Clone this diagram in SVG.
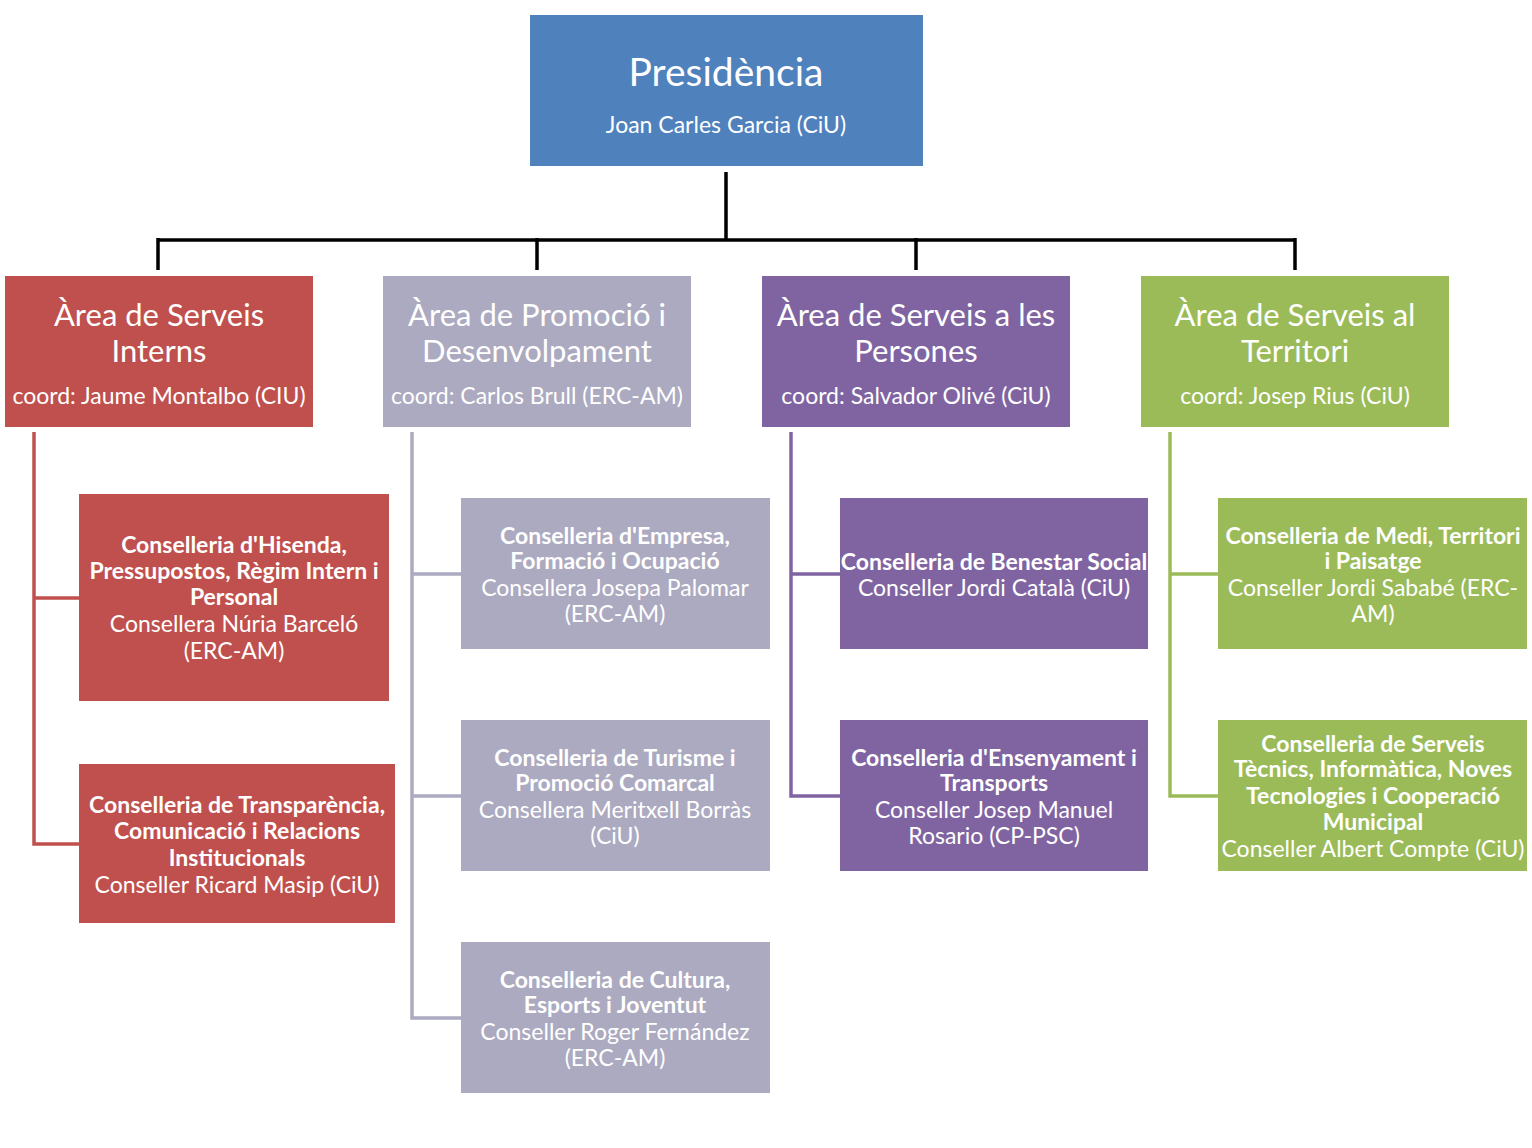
<svg xmlns="http://www.w3.org/2000/svg" width="1532" height="1148" viewBox="0 0 1532 1148">
<style>
text{font-family:Lato,"Open Sans","Liberation Sans",sans-serif;fill:#fff;text-anchor:middle}
.b{font-weight:bold;font-size:23px}
.n{font-size:23px}
.t{font-size:31px}
.c{font-size:23px}
.red{fill:#C0504D}.gray{fill:#ACAAC0}.pur{fill:#8064A2}.grn{fill:#9BBB59}
.lr{stroke:#C0504D}.lg{stroke:#ACAAC0}.lp{stroke:#8064A2}.lgr{stroke:#9BBB59}
.conn path{fill:none;stroke-width:3.5}
</style>
<rect width="1532" height="1148" fill="#fff"/>
<g id="connectors" class="conn">
<path d="M726 172V240M158 240H1295M158 238V270M537 238V270M916 238V270M1295 238V270" stroke="#000" stroke-width="4"/>
<path class="lr" d="M34 432V844H79M34 598H79"/>
<path class="lg" d="M412 432V1018H461M412 574H461M412 796H461"/>
<path class="lp" d="M791 432V796H840M791 574H840"/>
<path class="lgr" d="M1170 432V796H1218M1170 574H1218"/>
</g>
<g id="presidencia">
<rect x="530" y="15" width="393" height="151" fill="#4F81BD"/>
<text x="726" y="86" style="font-size:39px">Presidència</text>
<text x="726" y="133" class="c">Joan Carles Garcia (CiU)</text>
</g>
<g id="area-interns">
<rect x="5" y="276" width="308" height="151" class="red"/>
<text x="159" y="326" class="t">Àrea de Serveis</text>
<text x="159" y="362" class="t">Interns</text>
<text x="159" y="404" class="c">coord: Jaume Montalbo (CIU)</text>
</g>
<g id="area-promocio">
<rect x="383" y="276" width="308" height="151" class="gray"/>
<text x="537" y="326" class="t">Àrea de Promoció i</text>
<text x="537" y="362" class="t">Desenvolpament</text>
<text x="537" y="404" class="c">coord: Carlos Brull (ERC-AM)</text>
</g>
<g id="area-persones">
<rect x="762" y="276" width="308" height="151" class="pur"/>
<text x="916" y="326" class="t">Àrea de Serveis a les</text>
<text x="916" y="362" class="t">Persones</text>
<text x="916" y="404" class="c">coord: Salvador Olivé (CiU)</text>
</g>
<g id="area-territori">
<rect x="1141" y="276" width="308" height="151" class="grn"/>
<text x="1295" y="326" class="t">Àrea de Serveis al</text>
<text x="1295" y="362" class="t">Territori</text>
<text x="1295" y="404" class="c">coord: Josep Rius (CiU)</text>
</g>
<g id="hisenda">
<rect x="79" y="494" width="310" height="207" class="red"/>
<text x="234" y="553" class="b">Conselleria d'Hisenda,</text>
<text x="234" y="579" class="b">Pressupostos, Règim Intern i</text>
<text x="234" y="605" class="b">Personal</text>
<text x="234" y="632" class="n">Consellera Núria Barceló</text>
<text x="234" y="659" class="n">(ERC-AM)</text>
</g>
<g id="transparencia">
<rect x="79" y="764" width="316" height="159" class="red"/>
<text x="237" y="813" class="b">Conselleria de Transparència,</text>
<text x="237" y="839" class="b">Comunicació i Relacions</text>
<text x="237" y="866" class="b">Institucionals</text>
<text x="237" y="893" class="n">Conseller Ricard Masip (CiU)</text>
</g>
<g id="empresa">
<rect x="461" y="498" width="309" height="151" class="gray"/>
<text x="615" y="544" class="b">Conselleria d'Empresa,</text>
<text x="615" y="569" class="b">Formació i Ocupació</text>
<text x="615" y="596" class="n">Consellera Josepa Palomar</text>
<text x="615" y="622" class="n">(ERC-AM)</text>
</g>
<g id="turisme">
<rect x="461" y="720" width="309" height="151" class="gray"/>
<text x="615" y="766" class="b">Conselleria de Turisme i</text>
<text x="615" y="791" class="b">Promoció Comarcal</text>
<text x="615" y="818" class="n">Consellera Meritxell Borràs</text>
<text x="615" y="844" class="n">(CiU)</text>
</g>
<g id="cultura">
<rect x="461" y="942" width="309" height="151" class="gray"/>
<text x="615" y="988" class="b">Conselleria de Cultura,</text>
<text x="615" y="1013" class="b">Esports i Joventut</text>
<text x="615" y="1040" class="n">Conseller Roger Fernández</text>
<text x="615" y="1066" class="n">(ERC-AM)</text>
</g>
<g id="benestar">
<rect x="840" y="498" width="308" height="151" class="pur"/>
<text x="994" y="570" class="b">Conselleria de Benestar Social</text>
<text x="994" y="596" class="n">Conseller Jordi Català (CiU)</text>
</g>
<g id="ensenyament">
<rect x="840" y="720" width="308" height="151" class="pur"/>
<text x="994" y="766" class="b">Conselleria d'Ensenyament i</text>
<text x="994" y="791" class="b">Transports</text>
<text x="994" y="818" class="n">Conseller Josep Manuel</text>
<text x="994" y="844" class="n">Rosario (CP-PSC)</text>
</g>
<g id="medi">
<rect x="1218" y="498" width="309" height="151" class="grn"/>
<text x="1373" y="544" class="b">Conselleria de Medi, Territori</text>
<text x="1373" y="569" class="b">i Paisatge</text>
<text x="1373" y="596" class="n">Conseller Jordi Sababé (ERC-</text>
<text x="1373" y="622" class="n">AM)</text>
</g>
<g id="serveis-tecnics">
<rect x="1218" y="720" width="309" height="151" class="grn"/>
<text x="1373" y="752" class="b">Conselleria de Serveis</text>
<text x="1373" y="777" class="b">Tècnics, Informàtica, Noves</text>
<text x="1373" y="804" class="b">Tecnologies i Cooperació</text>
<text x="1373" y="830" class="b">Municipal</text>
<text x="1373" y="857" class="n">Conseller Albert Compte (CiU)</text>
</g>
</svg>
